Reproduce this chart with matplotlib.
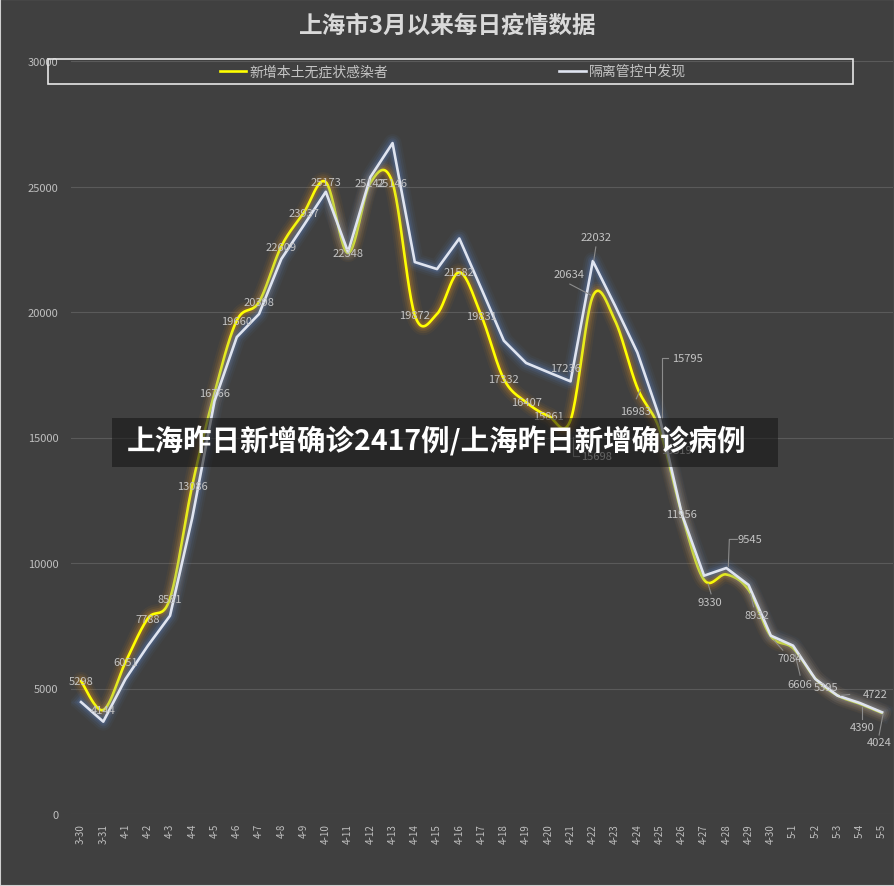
import numpy as np
import matplotlib
matplotlib.use("Agg")
import matplotlib.pyplot as plt
from matplotlib.patches import Rectangle
from matplotlib.lines import Line2D

plt.rcParams['font.family'] = ['Noto Sans CJK SC', 'DejaVu Sans']

# ---- data ----
dates = ['3-30', '3-31'] + ['4-%d' % d for d in range(1, 31)] + ['5-%d' % d for d in range(1, 6)]
asym = [5298, 4144, 6051, 7788, 8581, 13086, 16766, 19660, 20398, 22609, 23937, 25173,
        22348, 25142, 25146, 19872, 19923, 21582, 19831, 17332, 16407, 15861, 15698,
        20634, 19657, 16983, 15319, 11956, 9330, 9545, 8932, 7084, 6606, 5395, 4722,
        4390, 4024]
quarantine = [4460, 3680, 5380, 6700, 7900, 11800, 16450, 19000, 19920, 22110, 23440, 24790,
              22390, 25370, 26730, 21990, 21710, 22930, 20910, 18860, 17970, 17600, 17236,
              22032, 20250, 18390, 15795, 11950, 9495, 9800, 9124, 7105, 6706, 5378, 4714,
              4422, 4050]
yticks = [0, 5000, 10000, 15000, 20000, 25000, 30000]
title = '上海市3月以来每日疫情数据'
names = ['新增本土无症状感染者', '隔离管控中发现']
banner = '上海昨日新增确诊2417例/上海昨日新增确诊病例'

# labels: index -> (dx px, dy px, ha, leader points as px offsets)
asym_labels = {i: (0, 0, 'center', None) for i in range(len(asym)) if i not in (16, 24)}
asym_labels.update({
    22: (11, 36, 'left', [(2, 17), (2, 36), (8, 36)]),
    23: (-24, -22, 'center', [(-23, -12), (-2, -1)]),
    25: (-2, 23, 'center', [(-1, 11), (3, 2)]),
    26: (17, 21, 'center', None),
    28: (6, 22, 'center', [(4, 4), (7, 14)]),
    29: (24, -35, 'center', [(11, -35), (3, -35), (2, -8)]),
    30: (8, 25, 'center', [(2, 4), (5, 17)]),
    31: (19, 22, 'center', [(3, 4), (12, 14)]),
    32: (7, 36, 'center', [(7, 27), (2, 6)]),
    33: (11, 8, 'center', None),
    34: (25, -1, 'left', [(3, 0), (12, -1)]),
    35: (2, 23, 'center', [(2, 3), (2, 15)]),
    36: (-3, 29, 'center', [(1, 1), (-3, 22)]),
})
quar_labels = {
    22: (-5, -13, 'center', None),
    23: (3, -24, 'center', [(3, -14), (1, -1)]),
    26: (13, -60, 'left', [(8, -60), (2, -60), (2, 0)]),
}

W, H = 895, 887
fig = plt.figure(figsize=(W / 100, H / 100), dpi=100, facecolor='#404040')
ax = fig.add_axes([71 / W, (H - 815) / H, (893 - 71) / W, (815 - 62) / H])
ax.set_facecolor('none')
ax.set_xlim(-0.45, len(dates) - 1 + 0.49)
ax.set_ylim(0, 30000)
for s in ax.spines.values():
    s.set_visible(False)
ax.set_yticks(yticks)
ax.set_yticklabels([str(v) for v in yticks])
ax.set_xticks(range(len(dates)))
ax.set_xticklabels(dates, rotation=90, fontsize=7, color='#bfbfbf', va='top')
ax.tick_params(axis='y', length=0, pad=9, labelsize=8, labelcolor='#bfbfbf')
ax.tick_params(axis='x', length=0, pad=6.5)
ax.grid(axis='y', color='#5a5a5a', lw=0.8)
ax.set_axisbelow(True)


def smooth(xs, ys, n=24):
    pts = np.column_stack([xs, ys]).astype(float)
    p = np.vstack([pts[0], pts, pts[-1]])
    out = []
    t = np.linspace(0, 1, n, endpoint=False)[:, None]
    for i in range(1, len(p) - 2):
        p0, p1, p2, p3 = p[i - 1], p[i], p[i + 1], p[i + 2]
        seg = 0.5 * (2 * p1 + (p2 - p0) * t + (2 * p0 - 5 * p1 + 4 * p2 - p3) * t ** 2
                     + (-p0 + 3 * p1 - 3 * p2 + p3) * t ** 3)
        out.append(seg)
    out.append(pts[-1:])
    return np.vstack(out)


x = np.arange(len(dates))
sm = smooth(x, asym)

glow = [(13, 0.06), (10, 0.09), (7, 0.13), (4.5, 0.18)]
for lw, a in glow:
    ax.plot(sm[:, 0], sm[:, 1], color='#e8941c', lw=lw, alpha=a, solid_capstyle='round', zorder=2)
ax.plot(sm[:, 0], sm[:, 1], color='#ffff00', lw=1.9, zorder=3, solid_capstyle='round')
for lw, a in glow:
    ax.plot(x, quarantine, color='#5d86c8', lw=lw, alpha=a, solid_joinstyle='round', zorder=4)
ax.plot(x, quarantine, color='#dfe4f0', lw=1.9, zorder=5)

fig.canvas.draw()


def px(i, val, dx, dy):
    x0, y0 = ax.transData.transform((i, val))
    return ax.transData.inverted().transform((x0 + dx, y0 - dy))


def put_labels(series, labels):
    for i, (dx, dy, ha, leader) in labels.items():
        val = series[i]
        ax.annotate(str(val), (i, val), xytext=(dx, -dy), textcoords='offset pixels',
                    ha=ha, va='center', fontsize=8, color='#c4c4c4', zorder=7)
        if leader:
            pts = np.array([px(i, val, a, b) for a, b in leader])
            ax.plot(pts[:, 0], pts[:, 1], color='#8c8c8c', lw=0.8, zorder=6)


put_labels(asym, asym_labels)
put_labels(quarantine, quar_labels)

# title
fig.text(448 / W, 1 - 26 / H, title, ha='center', va='center', fontsize=17,
         color='#d9d9d9', fontweight='bold')

# legend box
fig.add_artist(Rectangle((48 / W, 1 - 84.5 / H), (853 - 48) / W, 25 / H, transform=fig.transFigure,
                         fill=False, edgecolor='#e6e6e6', lw=1.2))
ly = 1 - 72 / H
fig.add_artist(Line2D([220 / W, 246 / W], [ly, ly], color='#ffff00', lw=1.9))
fig.text(249 / W, ly, names[0], ha='left', va='center', fontsize=10, color='#c4c4c4')
fig.add_artist(Line2D([559 / W, 586 / W], [ly, ly], color='#dfe4f0', lw=1.9))
fig.text(589 / W, ly, names[1], ha='left', va='center', fontsize=10, color='#c4c4c4')

# banner
fig.add_artist(Rectangle((112 / W, 1 - 468 / H), (778 - 112) / W, 49 / H, transform=fig.transFigure,
                         facecolor='#141414', alpha=0.55, edgecolor='none', zorder=10))
fig.text(127 / W, 1 - 441 / H, banner, ha='left', va='center', fontsize=20.5,
         color='white', fontweight='black', zorder=11)

# outer frame
fig.add_artist(Rectangle((0, 0), 1, 1, transform=fig.transFigure, fill=False,
                         edgecolor='#d0d0d0', lw=1.5))

fig.savefig('out.png', dpi=100, facecolor=fig.get_facecolor())
